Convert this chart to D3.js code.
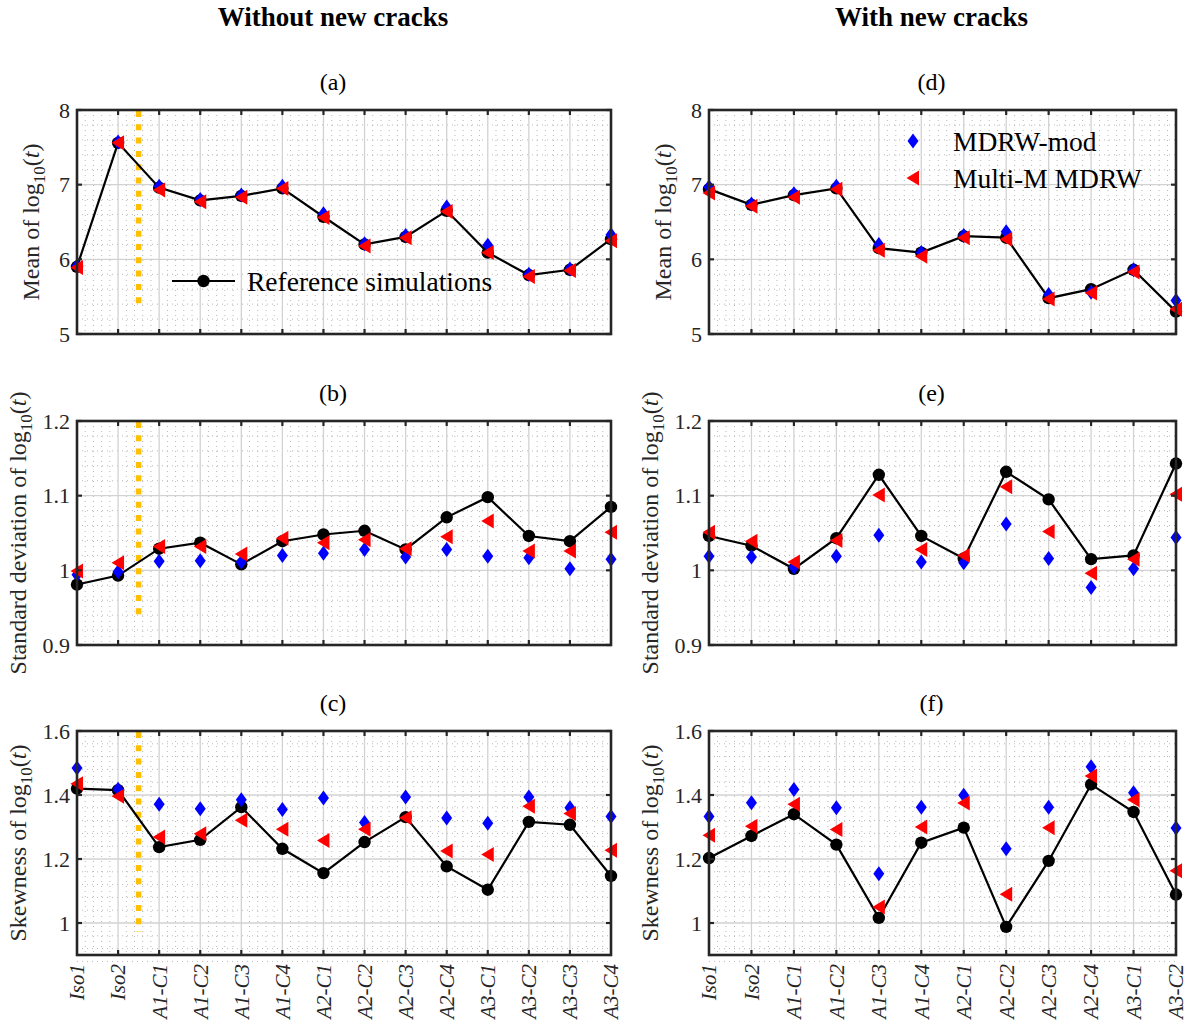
<!DOCTYPE html>
<html>
<head>
<meta charset="utf-8">
<script src="https://cdn.jsdelivr.net/npm/d3@7"></script>
<style>
  body { margin: 0; background: #fff; }
  svg { display: block; font-family: 'Liberation Serif', 'Times New Roman', serif; }
</style>
</head>
<body>
<div id="viz"></div>
<script>
// categories
const catsLeft = ['Iso1', 'Iso2', 'A1-C1', 'A1-C2', 'A1-C3', 'A1-C4', 'A2-C1', 'A2-C2', 'A2-C3', 'A2-C4', 'A3-C1', 'A3-C2', 'A3-C3', 'A3-C4'];
const catsRight = ['Iso1', 'Iso2', 'A1-C1', 'A1-C2', 'A1-C3', 'A1-C4', 'A2-C1', 'A2-C2', 'A2-C3', 'A2-C4', 'A3-C1', 'A3-C2'];

// without new cracks
const refMeanL = [5.90, 7.56, 6.96, 6.79, 6.85, 6.95, 6.57, 6.20, 6.30, 6.65, 6.09, 5.79, 5.86, 6.27];
const modMeanL = [5.91, 7.57, 6.98, 6.80, 6.86, 6.98, 6.61, 6.21, 6.32, 6.70, 6.19, 5.80, 5.87, 6.33];
const mmMeanL = [5.89, 7.56, 6.93, 6.77, 6.83, 6.95, 6.56, 6.18, 6.29, 6.64, 6.09, 5.77, 5.85, 6.25];

const refStdL = [0.981, 0.993, 1.029, 1.037, 1.008, 1.039, 1.048, 1.053, 1.028, 1.071, 1.098, 1.046, 1.039, 1.085];
const modStdL = [0.994, 0.998, 1.012, 1.013, 1.011, 1.020, 1.023, 1.028, 1.018, 1.028, 1.019, 1.017, 1.002, 1.015];
const mmStdL = [0.999, 1.010, 1.032, 1.032, 1.022, 1.043, 1.037, 1.041, 1.029, 1.045, 1.066, 1.026, 1.026, 1.051];

const refSkL = [1.420, 1.415, 1.237, 1.260, 1.362, 1.232, 1.156, 1.253, 1.331, 1.177, 1.104, 1.316, 1.307, 1.147];
const modSkL = [1.484, 1.418, 1.371, 1.357, 1.385, 1.355, 1.391, 1.314, 1.394, 1.328, 1.312, 1.394, 1.360, 1.333];
const mmSkL = [1.435, 1.396, 1.269, 1.279, 1.321, 1.293, 1.258, 1.293, 1.329, 1.225, 1.214, 1.365, 1.342, 1.227];

// with new cracks
const refMeanR = [6.94, 6.73, 6.86, 6.95, 6.15, 6.09, 6.31, 6.29, 5.48, 5.60, 5.86, 5.30];
const modMeanR = [6.97, 6.74, 6.88, 6.98, 6.20, 6.09, 6.32, 6.37, 5.53, 5.56, 5.86, 5.45];
const mmMeanR = [6.89, 6.71, 6.83, 6.94, 6.12, 6.04, 6.29, 6.27, 5.47, 5.55, 5.83, 5.33];

const refStdR = [1.046, 1.033, 1.002, 1.043, 1.128, 1.046, 1.016, 1.132, 1.095, 1.015, 1.020, 1.143];
const modStdR = [1.019, 1.018, 1.004, 1.019, 1.047, 1.011, 1.010, 1.062, 1.016, 0.977, 1.002, 1.044];
const mmStdR = [1.051, 1.039, 1.011, 1.040, 1.101, 1.028, 1.020, 1.112, 1.052, 0.996, 1.015, 1.102];

const refSkR = [1.203, 1.272, 1.340, 1.245, 1.016, 1.251, 1.298, 0.988, 1.194, 1.433, 1.347, 1.089];
const modSkR = [1.333, 1.376, 1.417, 1.360, 1.154, 1.362, 1.399, 1.232, 1.362, 1.488, 1.407, 1.297];
const mmSkR = [1.274, 1.302, 1.371, 1.292, 1.050, 1.300, 1.375, 1.090, 1.298, 1.459, 1.385, 1.163];

// y axes
const meanDomain = [5, 8];
const meanTicks = [5, 6, 7, 8];
const stdDomain = [0.9, 1.2];
const stdTicks = [0.9, 1, 1.1, 1.2];
const skDomain = [0.9, 1.6];
const skTicks = [1, 1.2, 1.4, 1.6];

// yellow divider (between Iso2 and A1-C1), lower end per row
const dividerAt = 1.5;
const dividerEnd = [5.32, 0.935, 0.972];

const W = 1191, H = 1021;
const colX = [[77, 611], [709, 1176]];
const rowY = [[110, 334], [421, 645], [731, 955]];

const diamond = 'M0,-7.5L5.5,0L0,7.5L-5.5,0Z';
const triLeft = 'M-6.5,0L6,-7.5L6,7.5Z';

const svg = d3.select('#viz').append('svg')
  .attr('width', W).attr('height', H);

function fmt(v) {
  return d3.format('~g')(v);
}

function drawPanel(p) {
  const x = d3.scaleLinear().domain([0, p.cats.length - 1]).range(colX[p.col]);
  const y = d3.scaleLinear().domain(p.domain).range([rowY[p.row][1], rowY[p.row][0]]);
  const [x0, x1] = x.range();
  const [y1, y0] = y.range();
  const g = svg.append('g');

  // minor grid
  const n = p.cats.length - 1;
  const minorX = d3.range(0, n * 5 + 1).map(i => i / 5).filter(v => v % 1 !== 0);
  const minorY = d3.range(0, Math.round((p.domain[1] - p.domain[0]) / p.minor) + 1)
    .map(i => +(p.domain[1] - i * p.minor).toFixed(4))
    .filter(v => !p.ticks.some(t => Math.abs(t - v) < 1e-6));
  g.selectAll('.mx').data(minorX).enter().append('line')
    .attr('x1', d => x(d)).attr('x2', d => x(d)).attr('y1', y0).attr('y2', y1)
    .attr('stroke', '#b8b8b8').attr('stroke-width', 1).attr('stroke-dasharray', '1,4');
  g.selectAll('.my').data(minorY).enter().append('line')
    .attr('x1', x0).attr('x2', x1).attr('y1', d => y(d)).attr('y2', d => y(d))
    .attr('stroke', '#b8b8b8').attr('stroke-width', 1).attr('stroke-dasharray', '1,4');

  // major grid
  g.selectAll('.gx').data(d3.range(0, n + 1)).enter().append('line')
    .attr('x1', d => x(d)).attr('x2', d => x(d)).attr('y1', y0).attr('y2', y1)
    .attr('stroke', '#d2d2d2').attr('stroke-width', 1.3);
  g.selectAll('.gy').data(p.ticks).enter().append('line')
    .attr('x1', x0).attr('x2', x1).attr('y1', d => y(d)).attr('y2', d => y(d))
    .attr('stroke', '#d2d2d2').attr('stroke-width', 1.3);

  // divider
  if (p.divider !== undefined) {
    g.append('line')
      .attr('x1', x(dividerAt)).attr('x2', x(dividerAt))
      .attr('y1', y0 + 1).attr('y2', y(p.divider))
      .attr('stroke', '#ffc000').attr('stroke-width', 5.5)
      .attr('stroke-dasharray', '6,7.3');
  }

  // reference line + markers
  const line = d3.line().x((d, i) => x(i)).y(d => y(d));
  g.append('path').datum(p.ref)
    .attr('d', line).attr('fill', 'none').attr('stroke', '#000').attr('stroke-width', 2.2);
  g.selectAll('.ref').data(p.ref).enter().append('circle')
    .attr('cx', (d, i) => x(i)).attr('cy', d => y(d)).attr('r', 6.2).attr('fill', '#000');
  g.selectAll('.mod').data(p.mod).enter().append('path')
    .attr('d', diamond)
    .attr('transform', (d, i) => `translate(${x(i)},${y(d)})`)
    .attr('fill', '#0000ff');
  g.selectAll('.mm').data(p.mm).enter().append('path')
    .attr('d', triLeft)
    .attr('transform', (d, i) => `translate(${x(i)},${y(d)})`)
    .attr('fill', '#ff0000');

  // box
  g.append('rect')
    .attr('x', x0).attr('y', y0).attr('width', x1 - x0).attr('height', y1 - y0)
    .attr('fill', 'none').attr('stroke', '#262626').attr('stroke-width', 2.6);

  // ticks, inward on all four sides
  const tl = 5;
  d3.range(1, n).forEach(i => {
    g.append('line').attr('x1', x(i)).attr('x2', x(i)).attr('y1', y1).attr('y2', y1 - tl)
      .attr('stroke', '#262626').attr('stroke-width', 2.2);
    g.append('line').attr('x1', x(i)).attr('x2', x(i)).attr('y1', y0).attr('y2', y0 + tl)
      .attr('stroke', '#262626').attr('stroke-width', 2.2);
  });
  p.ticks.forEach(t => {
    g.append('line').attr('x1', x0).attr('x2', x0 + tl).attr('y1', y(t)).attr('y2', y(t))
      .attr('stroke', '#262626').attr('stroke-width', 2.2);
    g.append('line').attr('x1', x1).attr('x2', x1 - tl).attr('y1', y(t)).attr('y2', y(t))
      .attr('stroke', '#262626').attr('stroke-width', 2.2);
  });

  // y tick labels
  g.selectAll('.yt').data(p.ticks).enter().append('text')
    .attr('x', x0 - 7).attr('y', d => y(d)).attr('dy', '0.35em')
    .attr('text-anchor', 'end').attr('font-size', 22).attr('fill', '#262626')
    .text(d => fmt(d));

  // x tick labels
  if (p.xlabels) {
    g.selectAll('.xt').data(p.cats).enter().append('text')
      .attr('transform', (d, i) => `translate(${x(i)},${y1 + 9}) rotate(-90)`)
      .attr('dy', '0.35em')
      .attr('text-anchor', 'end').attr('font-size', 21).attr('font-style', 'italic')
      .attr('fill', '#262626')
      .text(d => d);
  }

  // y label
  const yl = g.append('text')
    .attr('transform', `translate(${x0 - p.labelOff},${(y0 + y1) / 2}) rotate(-90)`)
    .attr('text-anchor', 'middle').attr('dy', '0.35em')
    .attr('font-size', 24).attr('fill', '#262626');
  yl.append('tspan').text(p.label + ' of log');
  yl.append('tspan').attr('font-size', 17).attr('dy', 6).text('10');
  yl.append('tspan').attr('dy', -6).text('(');
  yl.append('tspan').attr('font-style', 'italic').text('t');
  yl.append('tspan').text(')');

  // title
  svg.append('text')
    .attr('x', (x0 + x1) / 2 - 11).attr('y', y0 - 20)
    .attr('text-anchor', 'middle').attr('font-size', 24).attr('fill', '#000')
    .text(p.title);

  return { x, y };
}

const panels = [
  { col: 0, row: 0, cats: catsLeft, ref: refMeanL, mod: modMeanL, mm: mmMeanL, domain: meanDomain, ticks: meanTicks, minor: 0.2, label: 'Mean', labelOff: 46, title: '(a)', divider: dividerEnd[0] },
  { col: 0, row: 1, cats: catsLeft, ref: refStdL, mod: modStdL, mm: mmStdL, domain: stdDomain, ticks: stdTicks, minor: 0.02, label: 'Standard deviation', labelOff: 59, title: '(b)', divider: dividerEnd[1] },
  { col: 0, row: 2, cats: catsLeft, ref: refSkL, mod: modSkL, mm: mmSkL, domain: skDomain, ticks: skTicks, minor: 0.04, label: 'Skewness', labelOff: 59, title: '(c)', divider: dividerEnd[2], xlabels: true },
  { col: 1, row: 0, cats: catsRight, ref: refMeanR, mod: modMeanR, mm: mmMeanR, domain: meanDomain, ticks: meanTicks, minor: 0.2, label: 'Mean', labelOff: 46, title: '(d)' },
  { col: 1, row: 1, cats: catsRight, ref: refStdR, mod: modStdR, mm: mmStdR, domain: stdDomain, ticks: stdTicks, minor: 0.02, label: 'Standard deviation', labelOff: 59, title: '(e)' },
  { col: 1, row: 2, cats: catsRight, ref: refSkR, mod: modSkR, mm: mmSkR, domain: skDomain, ticks: skTicks, minor: 0.04, label: 'Skewness', labelOff: 59, title: '(f)', xlabels: true }
];

panels.forEach(drawPanel);

// column headers
[['Without new cracks', 0], ['With new cracks', 1]].forEach(([t, c]) => {
  svg.append('text')
    .attr('x', (colX[c][0] + colX[c][1]) / 2 - 11).attr('y', 26)
    .attr('text-anchor', 'middle').attr('font-size', 27).attr('font-weight', 'bold')
    .text(t);
});

// legend in (a)
const lg = svg.append('g').attr('transform', 'translate(172,281)');
lg.append('line').attr('x1', 0).attr('x2', 63).attr('y1', 0).attr('y2', 0)
  .attr('stroke', '#000').attr('stroke-width', 2.2);
lg.append('circle').attr('cx', 31.5).attr('cy', 0).attr('r', 6.2).attr('fill', '#000');
lg.append('text').attr('x', 75).attr('y', 0).attr('dy', '0.35em')
  .attr('font-size', 27.5).text('Reference simulations');

// legend in (d)
const lg2 = svg.append('g').attr('transform', 'translate(913,141)');
lg2.append('path').attr('d', diamond).attr('fill', '#0000ff');
lg2.append('text').attr('x', 40).attr('y', 0).attr('dy', '0.35em')
  .attr('font-size', 27.5).text('MDRW-mod');
lg2.append('path').attr('d', triLeft).attr('transform', 'translate(0,37)').attr('fill', '#ff0000');
lg2.append('text').attr('x', 40).attr('y', 37).attr('dy', '0.35em')
  .attr('font-size', 27.5).text('Multi-M MDRW');
</script>
</body>
</html>
